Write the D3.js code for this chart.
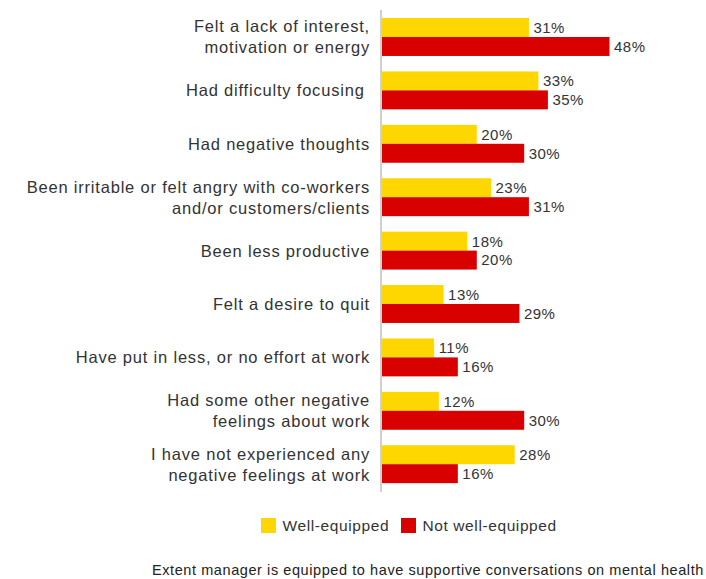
<!DOCTYPE html>
<html>
<head>
<meta charset="utf-8">
<script src="https://cdn.jsdelivr.net/npm/d3@7"></script>
<style>
  body { margin: 0; background: #fff; }
  svg { font-family: "Liberation Sans", Arial, Helvetica, sans-serif; }
</style>
</head>
<body>
<div class="visContainer"></div>
<script>
const categories = [
  ['Felt a lack of interest,', 'motivation or energy'],
  ['Had difficulty focusing\u00a0'],
  ['Had negative thoughts'],
  ['Been irritable or felt angry with co-workers', 'and/or customers/clients'],
  ['Been less productive'],
  ['Felt a desire to quit'],
  ['Have put in less, or no effort at work'],
  ['Had some other negative', 'feelings about work'],
  ['I have not experienced any', 'negative feelings at work']
];
const series = ['Well-equipped', 'Not well-equipped'];
const wellEquipped = [31, 33, 20, 23, 18, 13, 11, 12, 28];
const notWellEquipped = [48, 35, 30, 31, 20, 29, 16, 30, 16];
const footnote = 'Extent manager is equipped to have supportive conversations on mental health';

const colors = ['#FFD700', '#D90000'];
const width = 706;
const height = 579;
const axisX = 382;

const svg = d3.select('.visContainer')
              .append('svg')
              .attr('width', width)
              .attr('height', height);

const keys = categories.map((c, i) => i);
const yScale = d3.scaleBand()
                 .domain(keys)
                 .range([10.3, 490.9])
                 .paddingInner(0.29)
                 .paddingOuter(0.145);
const inner = d3.scaleBand()
                .domain(series)
                .range([0, yScale.bandwidth()]);
const xScale = d3.scaleLinear()
                 .domain([0, 48])
                 .range([axisX, 609.5]);

const rows = keys.map((i) => ({
  idx: i,
  values: [wellEquipped[i], notWellEquipped[i]]
}));

const group = svg.selectAll('g.row')
   .data(rows)
   .enter()
   .append('g')
   .attr('class', 'row')
   .attr('transform', (d) => `translate(0,${yScale(d.idx)})`);

group.selectAll('rect')
   .data((d) => d.values.map((v, j) => ({ v, s: series[j], j })))
   .enter()
   .append('rect')
   .attr('x', xScale(0))
   .attr('y', (d) => inner(d.s))
   .attr('width', (d) => xScale(d.v) - xScale(0))
   .attr('height', inner.bandwidth())
   .attr('fill', (d) => colors[d.j]);

group.selectAll('text.val')
   .data((d) => d.values.map((v, j) => ({ v, s: series[j] })))
   .enter()
   .append('text')
   .attr('class', 'val')
   .attr('x', (d) => xScale(d.v) + 4.5)
   .attr('y', (d) => inner(d.s) + inner.bandwidth() / 2)
   .attr('dy', '0.36em')
   .attr('font-size', 15)
   .attr('letter-spacing', 0.5)
   .attr('fill', '#333')
   .text((d) => d.v + '%');

// category labels
group.each(function (d) {
  const lines = categories[d.idx];
  const mid = yScale.bandwidth() / 2;
  const lh = 21;
  const t = d3.select(this).append('text')
     .attr('text-anchor', 'end')
     .attr('font-size', 16.5)
     .attr('letter-spacing', 0.8)
     .attr('fill', '#333');
  lines.forEach((line, k) => {
    t.append('tspan')
     .attr('x', 370)
     .attr('y', mid + (k - (lines.length - 1) / 2) * lh)
     .attr('dy', '0.36em')
     .text(line);
  });
});

// vertical axis line
svg.append('line')
   .attr('x1', axisX - 1).attr('x2', axisX - 1)
   .attr('y1', 10).attr('y2', 492)
   .attr('stroke', '#d0d0d0')
   .attr('stroke-width', 2);

// legend
const legend = svg.append('g').attr('transform', 'translate(261,518)');
const legendX = [0, 140];
series.forEach((s, i) => {
  legend.append('rect')
     .attr('x', legendX[i]).attr('y', 0)
     .attr('width', 15).attr('height', 15)
     .attr('fill', colors[i]);
  legend.append('text')
     .attr('x', legendX[i] + 21.5)
     .attr('y', 7.5)
     .attr('dy', '0.36em')
     .attr('font-size', 15.5)
     .attr('letter-spacing', 0.6)
     .attr('fill', '#333')
     .text(s);
});

svg.append('text')
   .attr('x', 152)
   .attr('y', 575)
   .attr('font-size', 14.5)
   .attr('letter-spacing', 0.58)
   .attr('fill', '#222')
   .text(footnote);
</script>
</body>
</html>
